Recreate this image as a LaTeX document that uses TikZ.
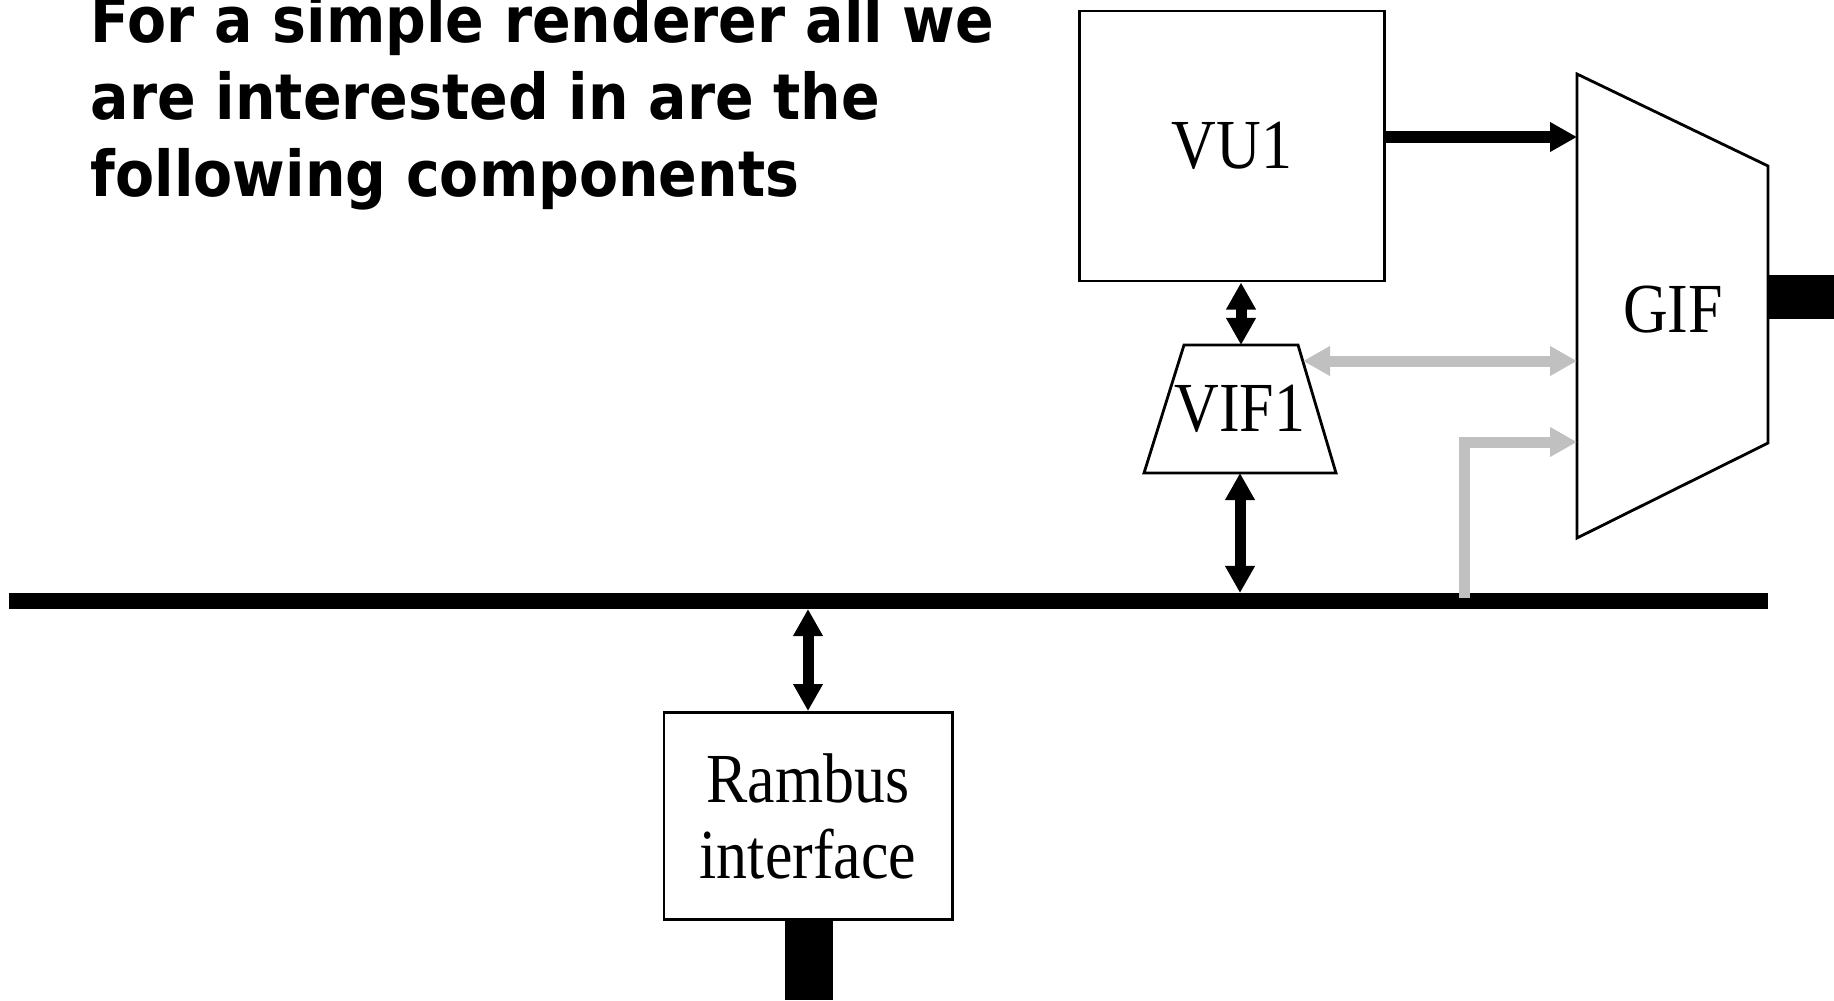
\documentclass[tikz,border=0pt]{standalone}
\usepackage{fontspec}
\setmainfont{Liberation Serif}[FakeStretch=0.88]
\newfontfamily\headfont{DejaVu Sans}[FakeStretch=0.9]
\usetikzlibrary{arrows.meta}
\usetikzlibrary{positioning,calc}
\definecolor{linkgray}{RGB}{192,192,192}
\newcommand\lblfont{\fontsize{20}{21.6}\selectfont}

\begin{document}
\begin{tikzpicture}[x=0.01cm,y=-0.01cm,
  >={Triangle[length=0.27cm,width=0.28cm]},
  unit/.style={draw,line width=0.8pt,font=\lblfont,align=center,inner sep=0pt},
  lbl/.style={font=\lblfont,inner sep=0pt},
  bus/.style={line width=0.16cm},
  link/.style={line width=0.11cm},
  side/.style={line width=0.11cm,linkgray}]
\useasboundingbox (0,0) rectangle (1834,1000);

\coordinate (vif-tl) at (1184,345);
\coordinate (vif-tr) at (1298,345);
\coordinate (vif-br) at (1336,473);
\coordinate (vif-bl) at (1144,473);
\coordinate (vif-t) at (1241,345);
\coordinate (vif-b) at (1240,473);
\coordinate (vif-r) at (1303,361);

\coordinate (gif-lt) at (1577,74);
\coordinate (gif-rt) at (1768,166);
\coordinate (gif-rb) at (1768,443);
\coordinate (gif-lb) at (1577,538);
\coordinate (gif-in1) at (1577,137);
\coordinate (gif-in2) at (1577,361);
\coordinate (gif-in3) at (1577,442);

\coordinate (bus-w) at (9,601);
\coordinate (bus-e) at (1768,601);
\coordinate (bus-t) at (0,593);
\coordinate (bus-b) at (0,609);
\coordinate (tap) at (1464,598);

\node[anchor=north west,inner sep=0pt,align=left,
  font=\headfont\bfseries\fontsize{18}{21.8}\selectfont] (title) at (90,-6)
  {For a simple renderer all we\\are interested in are the\\following components};

\node[unit,minimum width=3.05cm,minimum height=2.70cm] (vu1) at (1232,146) {VU1};
\node[unit,minimum width=2.88cm,minimum height=2.07cm] (ram) at (808,816)
  {Rambus\\interface};

\draw[line width=0.8pt] (vif-tl)--(vif-tr)--(vif-br)--(vif-bl)--cycle;
\node[lbl] (vif1) at (1240,409) {VIF1};

\draw[line width=0.8pt] (gif-lt)--(gif-rt)--(gif-rb)--(gif-lb)--cycle;
\node[lbl] (gif) at (1673,310) {GIF};

\fill (1768,275) rectangle (1834,319);
\fill (785,920) rectangle (833,1000);

\draw[bus] (bus-w) -- (bus-e);

\draw[link,->] (vu1.east |- gif-in1) -- (gif-in1);
\draw[link,<->] (vu1.south -| vif-t) -- (vif-t);
\draw[link,<->] (vif-b) -- (vif-b |- bus-t);
\draw[link,<->] (ram.north |- bus-b) -- (ram.north);

\draw[side,<->] (vif-r) -- (gif-in2);
\draw[side,->] (tap) -- (tap |- gif-in3) -- (gif-in3);
\end{tikzpicture}
\end{document}
